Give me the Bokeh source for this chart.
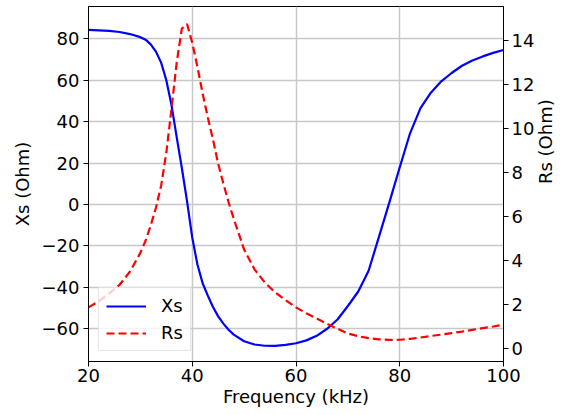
import math
from bokeh.plotting import figure
from bokeh.models import Range1d, LinearAxis, FixedTicker, Legend, LegendItem
from bokeh.embed import file_html
from bokeh.resources import INLINE

# Frequency (kHz) and reactance Xs (Ohm)
freq_xs = [20, 22, 24, 26, 28, 30, 31, 32, 33, 34, 35, 36, 37, 38, 39, 40, 41, 42,
           43, 44, 45, 46, 47, 48, 50, 52, 54, 56, 58, 60, 62, 64, 66, 68, 70, 72,
           74, 76, 78, 80, 82, 84, 86, 88, 90, 92, 94, 96, 98, 100]
xs_vals = [84.3, 84.1, 83.8, 83.3, 82.3, 80.8, 79.6, 77.3, 73.8, 68.5, 60.0, 48.0,
           32.5, 17.5, 1.5, -16.0, -29.0, -38.0, -44.0, -49.5, -54.0, -57.5, -60.5,
           -62.8, -66.0, -67.6, -68.2, -68.3, -67.8, -67.0, -65.6, -63.4, -60.0,
           -55.5, -49.0, -42.0, -32.0, -15.5, 1.0, 18.0, 34.5, 46.5, 54.0, 59.5,
           63.5, 67.0, 69.5, 71.5, 73.2, 74.6]

# Frequency (kHz) and resistance Rs (Ohm)
freq_rs = [20, 22, 24, 26, 28, 30, 31, 32, 33, 34, 35, 36, 37, 38, 39, 40, 41, 42,
           43, 44, 45, 46, 47, 48, 50, 52, 54, 56, 58, 60, 62, 64, 66, 68, 70, 72,
           74, 76, 78, 80, 82, 84, 86, 88, 90, 92, 94, 96, 98, 100]
rs_vals = [1.87, 2.15, 2.5, 2.9, 3.5, 4.35, 4.9, 5.6, 6.4, 7.4, 8.9, 10.9, 13.0,
           14.55, 14.75, 13.9, 12.8, 11.6, 10.5, 9.5, 8.4, 7.5, 6.65, 5.9, 4.5, 3.6,
           3.0, 2.55, 2.2, 1.87, 1.6, 1.37, 1.12, 0.9, 0.68, 0.56, 0.47, 0.42, 0.39,
           0.40, 0.44, 0.50, 0.57, 0.63, 0.70, 0.77, 0.85, 0.93, 1.0, 1.08]

x_ticks = [20, 40, 60, 80, 100]
xs_ticks = [-60, -40, -20, 0, 20, 40, 60, 80]
rs_ticks = [0, 2, 4, 6, 8, 10, 12, 14]

FONT = "DejaVu Sans"
FS = "18px"

p = figure(width=570, height=411, output_backend="svg", toolbar_location=None,
           x_range=Range1d(20, 100), y_range=Range1d(-75.8, 95.6),
           min_border_left=88, min_border_right=67, min_border_top=6,
           min_border_bottom=50)
p.extra_y_ranges = {"rs": Range1d(-0.59, 15.55)}
p.background_fill_color = "white"
p.border_fill_color = "white"
p.outline_line_color = "black"
p.outline_line_width = 1
p.outline_line_alpha = 1


def style_axis(ax):
    ax.axis_label_text_font = FONT
    ax.axis_label_text_font_size = FS
    ax.axis_label_text_font_style = "normal"
    ax.axis_label_text_color = "black"
    ax.major_label_text_font = FONT
    ax.major_label_text_font_size = FS
    ax.major_label_text_color = "black"
    ax.axis_line_color = "black"
    ax.major_tick_line_color = "black"
    ax.major_tick_in = 0
    ax.major_tick_out = 5
    ax.minor_tick_line_color = None
    ax.major_label_standoff = 4
    ax.axis_label_standoff = 6


p.xaxis.ticker = FixedTicker(ticks=x_ticks)
p.xaxis.axis_label = "Frequency (kHz)"
p.yaxis.ticker = FixedTicker(ticks=xs_ticks)
p.yaxis.axis_label = "Xs (Ohm)"
p.yaxis.major_label_overrides = {t: str(t).replace("-", "\u2212") for t in xs_ticks if t < 0}
style_axis(p.xaxis[0])
style_axis(p.yaxis[0])
p.xaxis.major_label_standoff = 2
p.xaxis.axis_label_standoff = 1

right = LinearAxis(y_range_name="rs", ticker=FixedTicker(ticks=rs_ticks),
                   axis_label="Rs (Ohm)")
style_axis(right)
right.major_label_standoff = 3
right.axis_label_standoff = 8
right.axis_label_orientation = math.pi / 2
p.add_layout(right, "right")

p.xgrid.grid_line_color = "#c8c8c8"
p.xgrid.grid_line_width = 1.5
p.ygrid.grid_line_color = "#c8c8c8"
p.ygrid.grid_line_width = 1.5

l1 = p.line(freq_xs, xs_vals, line_color="#0000ff", line_width=2.2)
l2 = p.line(freq_rs, rs_vals, line_color="#ff0000", line_width=2.2,
            line_dash="8 4", y_range_name="rs")

legend = Legend(items=[LegendItem(label="Xs", renderers=[l1]),
                       LegendItem(label="Rs", renderers=[l2])],
                location="bottom_left")
legend.label_text_font = FONT
legend.label_text_font_size = FS
legend.label_text_color = "black"
legend.glyph_width = 40
legend.glyph_height = 20
legend.label_height = 20
legend.label_standoff = 15
legend.spacing = 6
legend.padding = 7
legend.margin = 10
legend.border_line_color = "#cccccc"
legend.border_line_width = 1
legend.background_fill_alpha = 0.8
p.add_layout(legend)

open("out.html", "w").write(file_html(p, INLINE))
